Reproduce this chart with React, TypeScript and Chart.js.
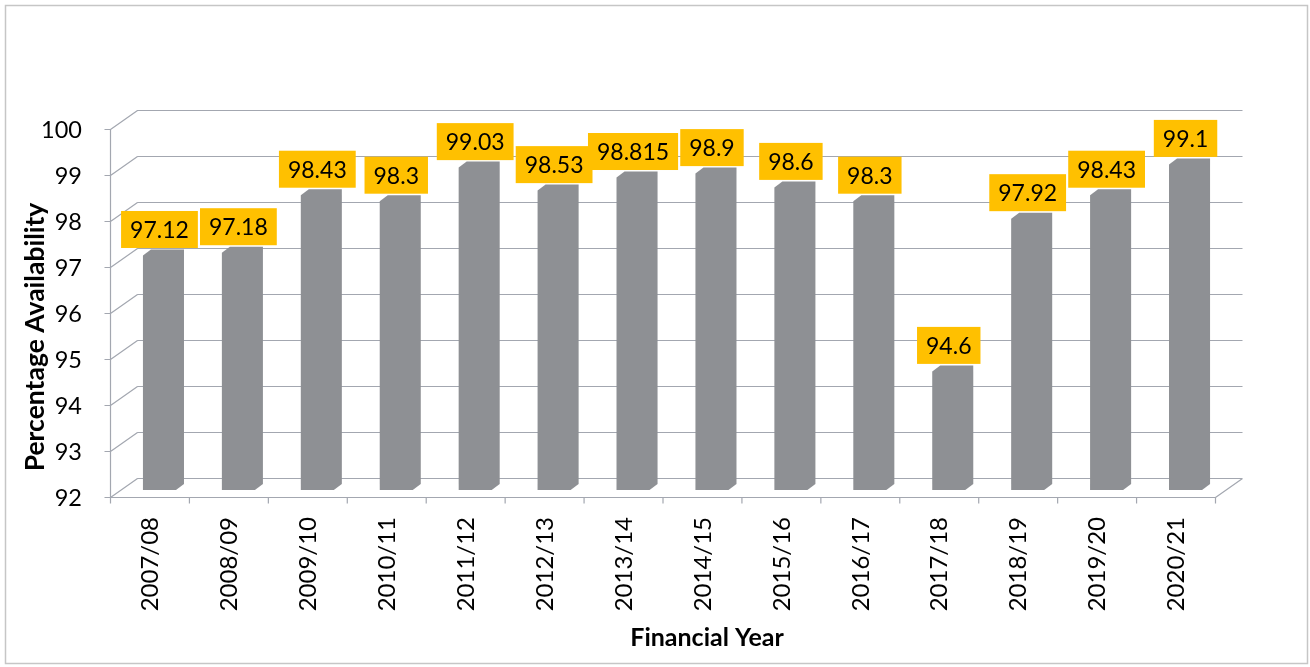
import React, { useEffect, useRef } from "react";
import { Chart, registerables } from "chart.js";

Chart.register(...registerables);

const categories = [
  "2007/08", "2008/09", "2009/10", "2010/11", "2011/12", "2012/13", "2013/14",
  "2014/15", "2015/16", "2016/17", "2017/18", "2018/19", "2019/20", "2020/21",
];
const availability = [97.12, 97.18, 98.43, 98.3, 99.03, 98.53, 98.815, 98.9, 98.6, 98.3, 94.6, 97.92, 98.43, 99.1];
const yMin = 92;
const yMax = 100;
const yTitle = "Percentage Availability";
const xTitle = "Financial Year";

const DX = 13.5;
const DY = 9.5;
const GRID = "#a3a7b0";
const BAR = "#8e9094";
const LABEL_BG = "#FFC000";
const FONT = "Lato, 'Open Sans', sans-serif";

const plugin3d = {
  id: "frame3d",
  beforeDraw(chart: any) {
    const ctx = chart.ctx;
    const y = chart.scales.y;
    const x = chart.scales.x;
    const { left, right } = chart.chartArea;
    ctx.save();
    ctx.strokeStyle = "#c6c6c6";
    ctx.lineWidth = 1.5;
    ctx.strokeRect(5.5, 5.5, 1302, 658);

    ctx.strokeStyle = GRID;
    ctx.lineWidth = 1.2;
    ctx.beginPath();
    for (let v = yMin; v <= yMax; v++) {
      const py = y.getPixelForValue(v);
      ctx.moveTo(left + DX, py - DY);
      ctx.lineTo(right + DX, py - DY);
      ctx.moveTo(left - DX, py + DY);
      ctx.lineTo(left + DX, py - DY);
      ctx.moveTo(left - DX - 6, py + DY);
      ctx.lineTo(left - DX, py + DY);
    }
    const pTop = y.getPixelForValue(yMax);
    const pBot = y.getPixelForValue(yMin);
    ctx.moveTo(left - DX, pTop + DY);
    ctx.lineTo(left - DX, pBot + DY);
    ctx.moveTo(left - DX, pBot + DY);
    ctx.lineTo(right - DX, pBot + DY);
    ctx.moveTo(right - DX, pBot + DY);
    ctx.lineTo(right + DX, pBot - DY);
    const n = categories.length;
    const step = (right - left) / n;
    for (let i = 0; i <= n; i++) {
      const px = (i < n ? x.getPixelForValue(i) - step / 2 : x.getPixelForValue(n - 1) + step / 2) - DX;
      ctx.moveTo(px, pBot + DY);
      ctx.lineTo(px, pBot + DY + 6);
    }
    ctx.stroke();
    ctx.restore();
  },
  beforeDatasetDraw(chart: any, args: any) {
    const ctx = chart.ctx;
    const meta = args.meta;
    ctx.save();
    ctx.fillStyle = BAR;
    meta.data.forEach((el: any) => {
      const { x, y, base, width } = el.getProps(["x", "y", "base", "width"], true);
      const x0 = x - width / 2;
      const x1 = x + width / 2;
      const bd = 8;
      ctx.beginPath();
      ctx.moveTo(x0, base + 2);
      ctx.lineTo(x0, y + 3);
      ctx.lineTo(x0 + bd, y - 3);
      ctx.lineTo(x1, y - 3);
      ctx.lineTo(x1, base - 4);
      ctx.lineTo(x1 - bd, base + 2);
      ctx.closePath();
      ctx.fill();
    });
    ctx.restore();
    return false;
  },
  afterDatasetsDraw(chart: any) {
    const ctx = chart.ctx;
    const meta = chart.getDatasetMeta(0);
    ctx.save();
    ctx.font = `23px ${FONT}`;
    ctx.textAlign = "center";
    ctx.textBaseline = "middle";
    meta.data.forEach((el: any, i: number) => {
      const { x, y } = el.getProps(["x", "y"], true);
      const text = String(availability[i]);
      const w = ctx.measureText(text).width + 18;
      const h = 37;
      const cx = x - 4;
      const bottom = y - 4.5;
      ctx.fillStyle = LABEL_BG;
      ctx.fillRect(cx - w / 2, bottom - h, w, h);
      ctx.fillStyle = "#000";
      ctx.fillText(text, cx, bottom - h / 2 + 1);
    });
    ctx.restore();
  },
  afterDraw(chart: any) {
    const ctx = chart.ctx;
    ctx.save();
    ctx.fillStyle = "#000";
    ctx.textAlign = "center";
    ctx.textBaseline = "middle";
    ctx.font = `bold 25px ${FONT}`;
    ctx.fillText(xTitle, 707, 638);
    ctx.font = `bold 26.5px ${FONT}`;
    ctx.translate(35, 337);
    ctx.rotate(-Math.PI / 2);
    ctx.fillText(yTitle, 0, 0);
    ctx.restore();
  },
};

export default function App() {
  const ref = useRef<HTMLCanvasElement | null>(null);
  useEffect(() => {
    if (!ref.current) return;
    const chart = new Chart(ref.current, {
      type: "bar",
      data: {
        labels: categories,
        datasets: [
          {
            data: availability,
            backgroundColor: BAR,
            categoryPercentage: 1,
            barPercentage: 0.52,
            base: yMin,
          } as any,
        ],
      },
      options: {
        animation: false,
        responsive: true,
        maintainAspectRatio: false,
        devicePixelRatio: 1,
        layout: { padding: { top: 120, right: 81, left: 0, bottom: 0 } },
        plugins: { legend: { display: false }, tooltip: { enabled: false } },
        scales: {
          x: {
            grid: { display: false, drawTicks: false },
            border: { display: false },
            ticks: {
              autoSkip: false,
              minRotation: 90,
              maxRotation: 90,
              padding: 29,
              labelOffset: -13,
              color: "#000",
              font: { family: FONT, size: 24 },
            },
            afterFit: (s: any) => {
              s.height = 179;
            },
          },
          y: {
            min: yMin,
            max: yMax,
            grid: { display: false, drawTicks: false },
            border: { display: false },
            ticks: {
              stepSize: 1,
              padding: 42,
              labelOffset: 10,
              color: "#000",
              font: { family: FONT, size: 23.5 },
            },
            afterFit: (s: any) => {
              s.width = 124;
            },
          },
        },
      },
      plugins: [plugin3d],
    });
    return () => chart.destroy();
  }, []);
  return (
    <div style={{ position: "fixed", left: 0, top: 0, width: 1310, height: 667, background: "#fff" }}>
      <canvas ref={ref} />
    </div>
  );
}
